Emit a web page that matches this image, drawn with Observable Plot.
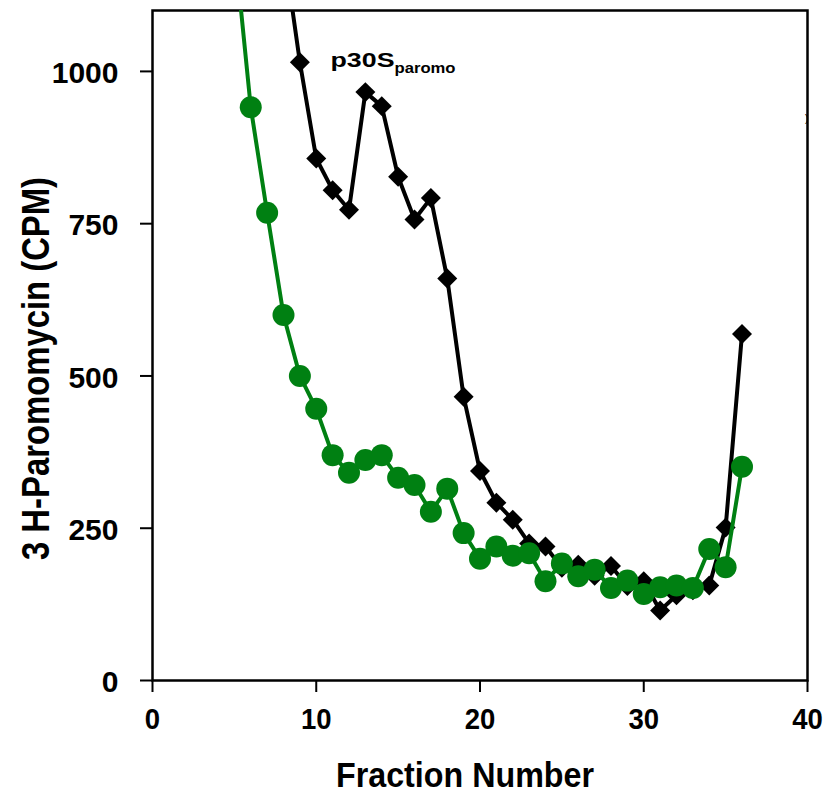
<!DOCTYPE html>
<html>
<head>
<meta charset="utf-8">
<script src="https://cdn.jsdelivr.net/npm/d3@7"></script>
<script src="https://cdn.jsdelivr.net/npm/@observablehq/plot@0.6"></script>
<style>
  html, body { margin: 0; padding: 0; background: white; }
</style>
</head>
<body>
<div id="chart"></div>
<script>
// Black series (p30S paromo), diamonds
const blackFractions = [8, 9, 10, 11, 12, 13, 14, 15, 16, 17, 18, 19, 20, 21, 22, 23, 24, 25, 26, 27, 28, 29, 30, 31, 32, 33, 34, 35, 36];
const blackValues    = [1205, 1015, 857, 805, 773, 966, 943, 827, 757, 792, 660, 466, 344, 292, 264, 225, 220, 185, 190, 172, 188, 155, 163, 115, 140, 148, 156, 251, 569];

// Green series, circles
const greenFractions = [5, 6, 7, 8, 9, 10, 11, 12, 13, 14, 15, 16, 17, 18, 19, 20, 21, 22, 23, 24, 25, 26, 27, 28, 29, 30, 31, 32, 33, 34, 35, 36];
const greenValues    = [1210, 941, 768, 600, 500, 446, 370, 341, 362, 370, 333, 321, 277, 315, 242, 200, 220, 205, 209, 163, 192, 171, 182, 152, 164, 142, 153, 156, 152, 216, 186, 351];

const xTicks = [0, 10, 20, 30, 40];
const yTicks = [0, 250, 500, 750, 1000];

const xLabel = "Fraction Number";
const yLabel = "3 H-Paromomycin (CPM)";
const annotationMain = "p30S";
const annotationSub = "paromo";
const annotationPos = [{x: 10.87, y: 1018}];
const strayMark = [{x: 39.85, y: 923, t: ")"}];

const GREEN = "#008012";
const XTICK_FONT = 29;

const black = blackFractions.map((f, i) => ({fraction: f, cpm: blackValues[i]}));
const green = greenFractions.map((f, i) => ({fraction: f, cpm: greenValues[i]}));

const chart = Plot.plot({
  width: 824,
  height: 793,
  marginLeft: 152,
  marginRight: 17,
  marginTop: 10,
  marginBottom: 113,
  style: {fontFamily: "'Liberation Sans', Arial, sans-serif", background: "white", color: "black"},
  x: {domain: [0, 40]},
  y: {domain: [0, 1100]},
  marks: [
    // tick marks only (labels drawn below as text marks)
    Plot.axisY({ticks: yTicks, tickSize: 12, fill: "none", label: null, strokeWidth: 2}),
    Plot.axisX({ticks: xTicks, tickSize: 12, fill: "none", label: null, strokeWidth: 2}),
    Plot.text(yTicks, {y: d => d, frameAnchor: "left", text: d => String(d), dx: -34, dy: 2,
      textAnchor: "end", lineAnchor: "middle", fontSize: 30, fontWeight: "bold"}),
    Plot.text(xTicks, {x: d => d, frameAnchor: "bottom", text: d => String(d), dy: 28,
      textAnchor: "middle", lineAnchor: "top", fontSize: XTICK_FONT, fontWeight: "bold", className: "xtick"}),
    Plot.frame({stroke: "black", strokeWidth: 2.5}),
    Plot.line(black, {x: "fraction", y: "cpm", stroke: "black", strokeWidth: 4, clip: true}),
    Plot.dot(black, {x: "fraction", y: "cpm", symbol: "diamond2", r: 9, fill: "black", stroke: "none", clip: true}),
    Plot.line(green, {x: "fraction", y: "cpm", stroke: GREEN, strokeWidth: 4, clip: true}),
    Plot.dot(green, {x: "fraction", y: "cpm", r: 11, fill: GREEN, stroke: "none", clip: true}),
    Plot.text(annotationPos, {x: "x", y: "y", text: () => annotationMain, textAnchor: "start",
      fontSize: 21, fontWeight: "bold", className: "annot"}),
    Plot.text(strayMark, {x: "x", y: "y", text: "t", fontSize: 10, textAnchor: "start"}),
    Plot.text([yLabel], {frameAnchor: "left", text: d => d, rotate: -90, dx: -116, dy: 23,
      textAnchor: "middle", fontSize: 38, fontWeight: "bold", className: "ylab"}),
    Plot.text([xLabel], {frameAnchor: "bottom", text: d => d, dy: 95, dx: -15,
      textAnchor: "middle", lineAnchor: "middle", fontSize: 35, fontWeight: "bold", className: "xlab"})
  ]
});

document.getElementById("chart").appendChild(chart);

const svg = d3.select(chart);
svg.selectAll("g.xtick text").each(function () {
  const n = (this.textContent || "").length;
  this.setAttribute("textLength", (n * 0.556 * XTICK_FONT * 0.95).toFixed(1));
  this.setAttribute("lengthAdjust", "spacingAndGlyphs");
});
svg.selectAll("g.ylab text").attr("textLength", 383).attr("lengthAdjust", "spacingAndGlyphs");
svg.selectAll("g.xlab text").attr("textLength", 258).attr("lengthAdjust", "spacingAndGlyphs");

svg.selectAll("g.annot text").each(function () {
  const t = d3.select(this);
  t.text(null);
  t.append("tspan").attr("textLength", 64).attr("lengthAdjust", "spacingAndGlyphs").text(annotationMain);
  t.append("tspan").attr("dy", 6).attr("font-size", 14)
    .attr("textLength", 61).attr("lengthAdjust", "spacingAndGlyphs").text(annotationSub);
});
</script>
</body>
</html>
